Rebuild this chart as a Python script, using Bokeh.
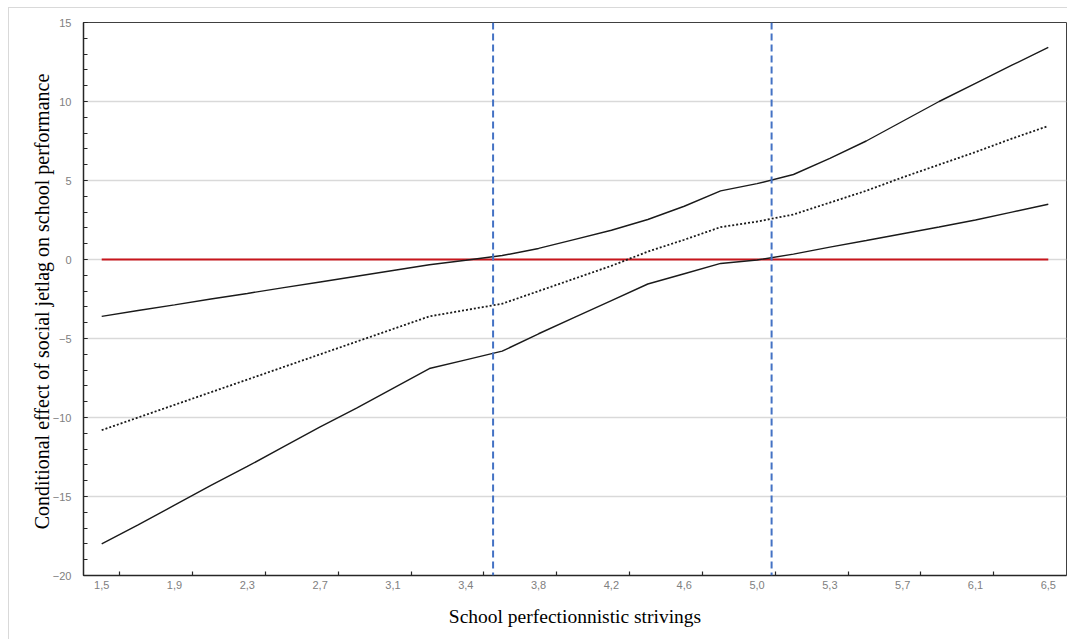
from bokeh.plotting import figure
from bokeh.models import FixedTicker, Range1d, Span
from bokeh.embed import file_html
from bokeh.resources import INLINE
import numpy as np

# ---- data ----
x_labels = ["1,5", "1,9", "2,3", "2,7", "3,1", "3,4", "3,8",
            "4,2", "4,6", "5,0", "5,3", "5,7", "6,1", "6,5"]
label_values = [1.5, 1.9, 2.3, 2.7, 3.1, 3.4, 3.8, 4.2, 4.6, 5.0, 5.3, 5.7, 6.1, 6.5]

# 27 category rows (labels shown on every second row)
upper_ci = [-3.6, -3.23, -2.87, -2.5, -2.15, -1.78, -1.42, -1.06, -0.7, -0.33,
            -0.05, 0.25, 0.7, 1.27, 1.85, 2.53, 3.37, 4.34, 4.8, 5.38,
            6.4, 7.5, 8.75, 10.0, 11.15, 12.3, 13.42]
effect = [-10.8, -10.0, -9.2, -8.4, -7.6, -6.8, -6.0, -5.2, -4.4, -3.6,
          -3.2, -2.8, -2.0, -1.2, -0.4, 0.5, 1.25, 2.05, 2.4, 2.85,
          3.6, 4.35, 5.2, 6.0, 6.8, 7.65, 8.45]
lower_ci = [-18.0, -16.8, -15.55, -14.3, -13.1, -11.85, -10.6, -9.4, -8.15, -6.9,
            -6.35, -5.8, -4.7, -3.65, -2.6, -1.55, -0.9, -0.25, -0.03, 0.34,
            0.78, 1.2, 1.63, 2.06, 2.5, 3.0, 3.5]
zero_line = [0] * 27
jn_points = [3.55, 5.06]          # Johnson-Neyman significance points
y_ticks = [-20, -15, -10, -5, 0, 5, 10, 15]

# ---- positions on the category axis ----
pos = list(range(len(effect)))
label_pos = pos[::2]
jn_pos = np.interp(jn_points, label_values, label_pos)

p = figure(width=1059, height=632,
           x_range=Range1d(-0.5, len(pos) - 0.5), y_range=Range1d(-20, 15),
           output_backend="svg", toolbar_location=None,
           min_border_left=74, min_border_top=14, min_border_right=2, min_border_bottom=65)
p.styles = {"margin-left": "8px", "margin-top": "7px",
            "border-left": "1px solid #d9d9d9", "border-top": "1px solid #d9d9d9"}

p.outline_line_color = "#404040"
p.outline_line_width = 1
p.background_fill_color = "white"
p.border_fill_color = "white"

# x axis: labels on even rows, inward ticks between label groups
p.xaxis.ticker = FixedTicker(ticks=label_pos, minor_ticks=[j + 0.5 for j in label_pos[:-1]])
p.xaxis.major_label_overrides = {j: t for j, t in zip(label_pos, x_labels)}
p.xaxis.major_tick_in = 0
p.xaxis.major_tick_out = 0
p.xaxis.minor_tick_in = 4
p.xaxis.minor_tick_out = 0
p.xaxis.axis_line_color = "#262626"
p.xaxis.axis_line_width = 1.5
p.xaxis.minor_tick_line_color = "#262626"
p.xaxis.minor_tick_line_width = 1.2
p.xaxis.major_label_text_font = "Liberation Sans"
p.xaxis.major_label_text_font_size = "11px"
p.xaxis.major_label_text_color = "#808080"
p.xaxis.major_label_standoff = 5
p.xaxis.axis_label = "School perfectionnistic strivings"
p.xaxis.axis_label_text_font = "Liberation Serif"
p.xaxis.axis_label_text_font_style = "normal"
p.xaxis.axis_label_text_font_size = "19.5px"
p.xaxis.axis_label_text_color = "black"
p.xaxis.axis_label_standoff = 14

# y axis
p.yaxis.ticker = FixedTicker(ticks=y_ticks, minor_ticks=list(range(-20, 16)))
p.yaxis.major_tick_in = 4
p.yaxis.major_tick_out = 0
p.yaxis.minor_tick_in = 4
p.yaxis.minor_tick_out = 0
p.yaxis.axis_line_color = "#262626"
p.yaxis.axis_line_width = 1.5
p.yaxis.major_tick_line_color = "#262626"
p.yaxis.minor_tick_line_color = "#262626"
p.yaxis.major_tick_line_width = 1.2
p.yaxis.minor_tick_line_width = 1.2
p.yaxis.major_label_text_font = "Liberation Sans"
p.yaxis.major_label_text_font_size = "11px"
p.yaxis.major_label_text_color = "#808080"
p.yaxis.major_label_standoff = 12
p.yaxis.axis_label = "Conditional effect  of social jetlag on school performance"
p.yaxis.axis_label_text_font = "Liberation Serif"
p.yaxis.axis_label_text_font_style = "normal"
p.yaxis.axis_label_text_font_size = "20px"
p.yaxis.axis_label_text_color = "black"
p.yaxis.axis_label_standoff = -3

p.xgrid.visible = False
p.ygrid.ticker = FixedTicker(ticks=y_ticks)
p.ygrid.grid_line_color = "#d9d9d9"
p.ygrid.grid_line_width = 1.3

# series
p.line(pos, zero_line, line_color="#C8161D", line_width=2)
p.line(pos, upper_ci, line_color="#1a1a1a", line_width=1.4)
p.line(pos, lower_ci, line_color="#1a1a1a", line_width=1.4)
p.line(pos, effect, line_color="#1a1a1a", line_width=1.8, line_dash="2 2")

for loc in jn_pos:
    p.add_layout(Span(location=float(loc), dimension="height", line_color="#4472C4",
                      line_width=2, line_dash="7 4"))

open("out.html", "w").write(file_html(p, INLINE))
